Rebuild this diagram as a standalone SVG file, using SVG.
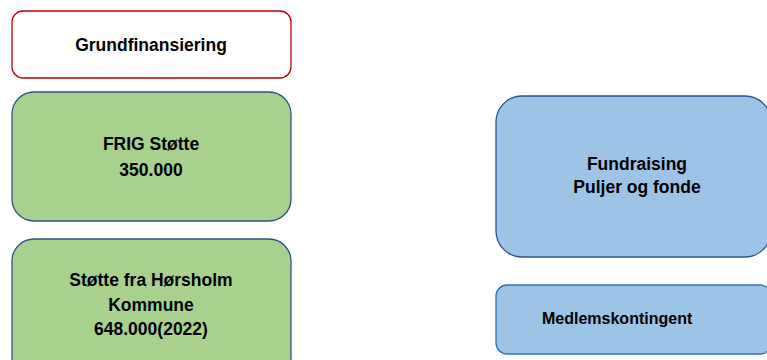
<svg xmlns="http://www.w3.org/2000/svg" width="767" height="360" viewBox="0 0 767 360">
<style>
.t{font-family:"Liberation Sans",Arial,sans-serif;font-weight:bold;font-size:17.5px;fill:#000;text-anchor:middle}
.g{fill:#A9D18E;stroke:#2F528F;stroke-width:1.3}
.b{fill:#9DC3E6;stroke:#2F528F;stroke-width:1.3}
</style>
<rect width="767" height="360" fill="#fff"/>
<g id="grundfinansiering">
<rect x="12" y="11" width="279" height="67" rx="11" fill="#fff" stroke="#C00000" stroke-width="1.3"/>
<text class="t" x="151" y="51">Grundfinansiering</text>
</g>
<g id="frig">
<rect class="g" x="12" y="92" width="279" height="129" rx="22"/>
<text class="t" x="151" y="150">FRIG Støtte</text>
<text class="t" x="151" y="176">350.000</text>
</g>
<g id="horsholm">
<rect class="g" x="12" y="239" width="279" height="140" rx="22"/>
<text class="t" x="151" y="286">Støtte fra Hørsholm</text>
<text class="t" x="151" y="311">Kommune</text>
<text class="t" x="151" y="335">648.000(2022)</text>
</g>
<g id="fundraising">
<rect class="b" x="496" y="96" width="275" height="161" rx="26"/>
<text class="t" x="637" y="170">Fundraising</text>
<text class="t" x="637" y="193">Puljer og fonde</text>
</g>
<g id="medlemskontingent">
<rect x="496" y="285" width="275" height="69" rx="11" fill="#9DC3E6" stroke="#2E75B6" stroke-width="1.3"/>
<text class="t" x="542" y="324" style="text-anchor:start;font-size:16px">Medlemskontingent</text>
</g>
<g id="connectors"/>
</svg>
